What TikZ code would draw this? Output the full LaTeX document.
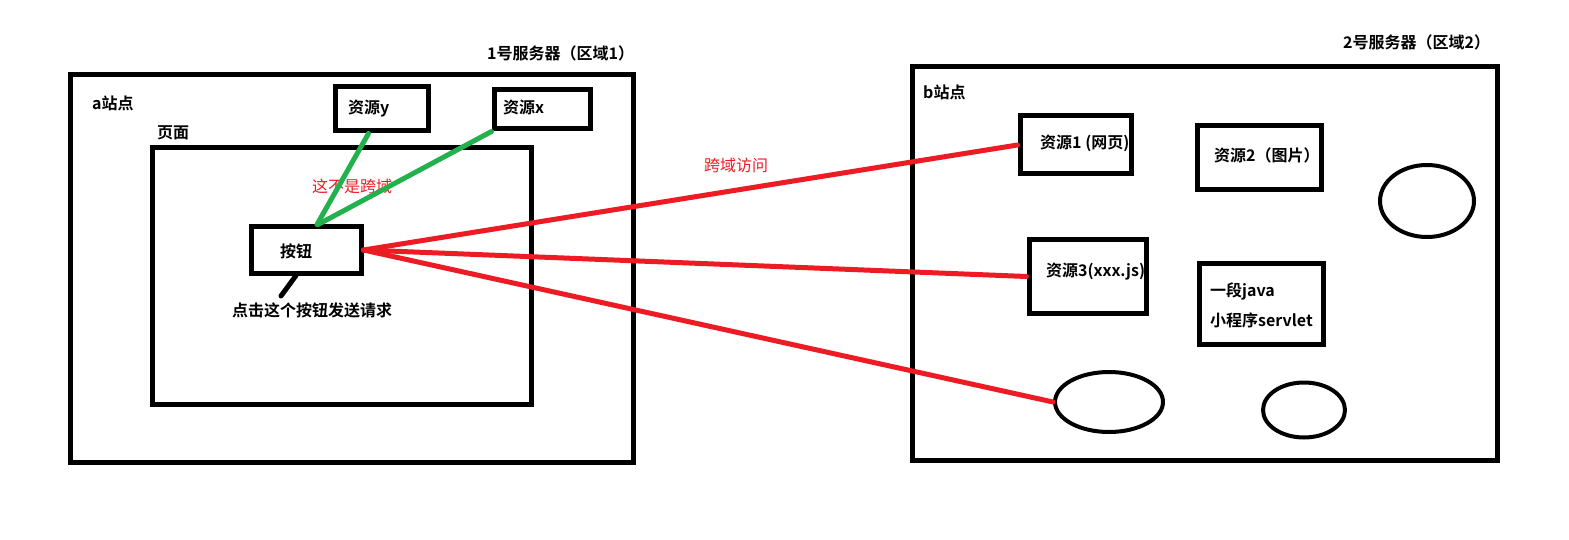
\documentclass[tikz,border=0pt]{standalone}
\usepackage{fontspec}
\setmainfont{Noto Sans CJK SC}[BoldFont={Noto Sans CJK SC Bold}]
\usetikzlibrary{calc}
\usetikzlibrary{shapes.geometric}
\definecolor{paintred}{RGB}{237,28,36}
\definecolor{paintgreen}{RGB}{34,177,76}

\begin{document}
\begin{tikzpicture}[line cap=round,line join=round,x=1pt,y=-1pt,
  box/.style={draw,line width=5pt,line cap=butt,line join=miter,inner sep=0pt},
  oval/.style={ellipse,draw,line width=4pt,inner sep=0pt},
  lbl/.style={anchor=west,inner sep=0pt,font=\fontsize{16}{19}\selectfont\bfseries},
  redlbl/.style={anchor=west,inner sep=0pt,text=paintred,font=\fontsize{16}{19}\selectfont},
  redline/.style={draw=paintred,line width=5pt},
  greenline/.style={draw=paintgreen,line width=5pt}]
\useasboundingbox (0,0) rectangle (1569,540);
% server 1
\node[box,minimum width=563,minimum height=387] (srvA) at (351.5,268.5) {};
\node[box,minimum width=379,minimum height=256] (page) at (341.5,276) {};
\node[box,minimum width=93,minimum height=44] (resy) at (381.5,109) {};
\node[box,minimum width=96,minimum height=39] (resx) at (542,109.5) {};
\node[box,minimum width=110,minimum height=46] (btn) at (306,250) {};
\node[lbl] (srvAlbl) at (487,53) {1号服务器（区域1）};
\node[lbl] (siteA) at (92,103) {a站点};
\node[lbl] (pagelbl) at (157,133) {页面};
\node[lbl] (resylbl) at (348,109) {资源y};
\node[lbl] (resxlbl) at (503,108) {资源x};
\node[lbl] (btnlbl) at (280,251) {按钮};
\node[lbl] (note) at (232,310) {点击这个按钮发送请求};
\node[redlbl] (same) at (312,186) {这不是跨域};
\coordinate (tip) at (281,296);
%
% server 2
\node[box,minimum width=585,minimum height=393] (srvB) at (1204.5,263.5) {};
\node[box,minimum width=111,minimum height=58] (res1) at (1075.5,145) {};
\node[box,minimum width=124,minimum height=64] (res2) at (1259,158) {};
\node[box,minimum width=117,minimum height=73] (res3) at (1087.5,276.5) {};
\node[box,minimum width=124,minimum height=81] (java) at (1261,303.5) {};
\node[oval,minimum width=94,minimum height=72] (ellA) at (1427,201) {};
\node[oval,minimum width=108,minimum height=60] (ellB) at (1109,402) {};
\node[oval,minimum width=82,minimum height=55] (ellC) at (1304,410) {};
\node[lbl] (srvBlbl) at (1343,42) {2号服务器（区域2）};
\node[lbl] (siteB) at (923,92) {b站点};
\node[lbl] (res1lbl) at (1040,143) {资源1 (网页)};
\node[lbl] (res2lbl) at (1214,155) {资源2（图片）};
\node[lbl] (res3lbl) at (1046,272) {资源3(xxx.js)};
\node[lbl] (javalbl) at (1210,291) {一段java};
\node[lbl] (servlbl) at (1210,320) {小程序servlet};
\node[redlbl] (cross) at (704,165) {跨域访问};
%
% connectors
\draw[line width=5pt] ([xshift=-10pt]btn.south) -- (tip);
\draw[greenline] ([xshift=-13pt]resy.south) -- ([xshift=11pt]btn.north);
\draw[greenline] (resx.south west) -- ([xshift=12pt]btn.north);
\draw[redline] (btn.east) -- (res1.west);
\draw[redline] (btn.east) -- (res3.west);
\draw[redline] (btn.east) -- (ellB.west);
\end{tikzpicture}
\end{document}
